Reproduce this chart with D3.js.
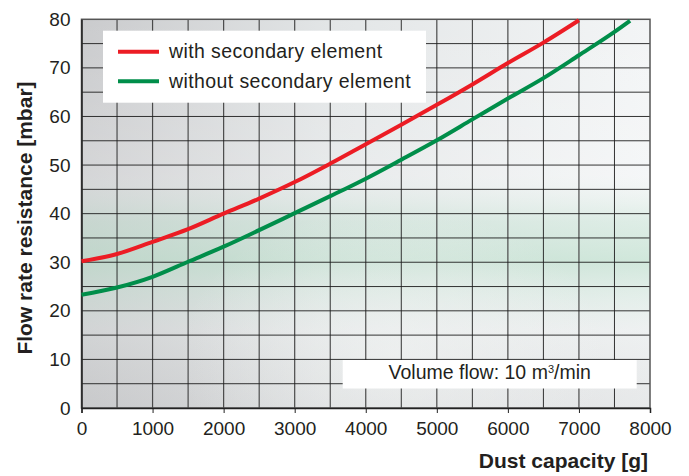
<!DOCTYPE html>
<html>
<head>
<meta charset="utf-8">
<script src="https://d3js.org/d3.v7.min.js"></script>
<style>
    body { margin: 0; background: #fff; }
    text { font-family: "Liberation Sans", Arial, Helvetica, sans-serif; fill: #231f20; }
</style>
</head>
<body>
<div id="chart"></div>
<script>
// values
const capacityRed = [0, 500, 1000, 1500, 2000, 2500, 3000, 3500, 4000, 4500, 5000, 5500, 6000, 6500, 7000];
const withSecondary = [30.2, 31.7, 34.2, 36.8, 40.0, 43.1, 46.5, 50.3, 54.3, 58.3, 62.4, 66.6, 71.0, 75.2, 79.8];
const capacityGreen = [0, 500, 1000, 1500, 2000, 2500, 3000, 3500, 4000, 4500, 5000, 5500, 6000, 6500, 7000, 7500, 7720];
const withoutSecondary = [23.3, 24.8, 27.0, 30.1, 33.2, 36.6, 40.1, 43.6, 47.2, 51.1, 55.1, 59.4, 63.7, 67.9, 72.6, 77.4, 79.7];
const xTicks = [0, 1000, 2000, 3000, 4000, 5000, 6000, 7000, 8000];
const yTicks = [0, 10, 20, 30, 40, 50, 60, 70, 80];
const seriesNames = ["with secondary element", "without secondary element"];
const seriesColors = ["#ec1c24", "#008e4a"];

const width = 689, height = 476;
const plot = { left: 81.5, right: 650, top: 19.3, bottom: 408 };

const svg = d3.select("#chart").append("svg")
    .attr("width", width)
    .attr("height", height);

const x = d3.scaleLinear().domain([0, 8000]).range([plot.left, plot.right]);
const y = d3.scaleLinear().domain([0, 80]).range([plot.bottom, plot.top]);

// background: grey to white, with a green band low in the plot
const defs = svg.append("defs");
const gh = defs.append("linearGradient").attr("id", "bgH");
gh.append("stop").attr("offset", "0%").attr("stop-color", "#cacbcd");
gh.append("stop").attr("offset", "45%").attr("stop-color", "#e3e6e7");
gh.append("stop").attr("offset", "100%").attr("stop-color", "#f3f5f6");

const gv = defs.append("linearGradient").attr("id", "bgV")
    .attr("x1", 0).attr("y1", 0).attr("x2", 0).attr("y2", 1);
gv.append("stop").attr("offset", "0%").attr("stop-color", "#ffffff").attr("stop-opacity", 0);
gv.append("stop").attr("offset", "40%").attr("stop-color", "#ffffff").attr("stop-opacity", 0.2);
gv.append("stop").attr("offset", "52%").attr("stop-color", "#c4e3d2").attr("stop-opacity", 0.45);
gv.append("stop").attr("offset", "62%").attr("stop-color", "#b9dec9").attr("stop-opacity", 0.6);
gv.append("stop").attr("offset", "72%").attr("stop-color", "#cfe6da").attr("stop-opacity", 0.4);
gv.append("stop").attr("offset", "80%").attr("stop-color", "#e4e8e7").attr("stop-opacity", 0.3);
gv.append("stop").attr("offset", "100%").attr("stop-color", "#c4c4c5").attr("stop-opacity", 0.25);

const gr = defs.append("radialGradient").attr("id", "glow")
    .attr("cx", "55%").attr("cy", "86%").attr("r", "38%");
gr.append("stop").attr("offset", "0%").attr("stop-color", "#f4f6f5").attr("stop-opacity", 0.55);
gr.append("stop").attr("offset", "100%").attr("stop-color", "#f4f6f5").attr("stop-opacity", 0);

["url(#bgH)", "url(#bgV)", "url(#glow)"].forEach(f => {
    svg.append("rect")
        .attr("x", plot.left).attr("y", plot.top)
        .attr("width", plot.right - plot.left).attr("height", plot.bottom - plot.top)
        .attr("fill", f);
});

// grid every 500 g and every 5 mbar
const grid = svg.append("g");
grid.selectAll(".vline")
    .data(d3.range(500, 8000, 500))
    .enter().append("line")
    .attr("x1", d => x(d)).attr("x2", d => x(d))
    .attr("y1", plot.top).attr("y2", plot.bottom)
    .attr("stroke", d => d % 1000 === 0 ? "#4a4a4a" : "#1e1e1e")
    .attr("stroke-width", d => d % 1000 === 0 ? 1.2 : 0.9);
grid.selectAll(".hline")
    .data(d3.range(5, 80, 5))
    .enter().append("line")
    .attr("x1", plot.left).attr("x2", plot.right)
    .attr("y1", d => y(d)).attr("y2", d => y(d))
    .attr("stroke", "#1e1e1e")
    .attr("stroke-width", 0.9);

svg.append("rect")
    .attr("x", plot.left).attr("y", plot.top)
    .attr("width", plot.right - plot.left).attr("height", plot.bottom - plot.top)
    .attr("fill", "none")
    .attr("stroke", "#555")
    .attr("stroke-width", 1.5);

// axes
const xAxis = svg.append("g")
    .attr("transform", "translate(0," + plot.bottom + ")")
    .call(d3.axisBottom(x).tickValues(xTicks).tickFormat(d3.format("d")).tickSize(5).tickPadding(9));
xAxis.select(".domain").attr("stroke", "#222").attr("stroke-width", 1.5);
xAxis.selectAll(".tick line").attr("stroke", "#222");
xAxis.selectAll("text").style("font-size", "19px").attr("fill", "#231f20");

const yAxis = svg.append("g")
    .attr("transform", "translate(" + plot.left + ",0)")
    .call(d3.axisLeft(y).tickValues(yTicks).tickSize(0).tickPadding(11));
yAxis.select(".domain").attr("stroke", "#222").attr("stroke-width", 1.5);
yAxis.selectAll("text").style("font-size", "19px").attr("fill", "#231f20");

// curves
const line = d3.line()
    .x(d => x(d[0]))
    .y(d => y(d[1]))
    .curve(d3.curveMonotoneX);

const series = [
    d3.zip(capacityRed, withSecondary),
    d3.zip(capacityGreen, withoutSecondary)
];
svg.selectAll(".curve")
    .data(series)
    .enter().append("path")
    .attr("class", "curve")
    .attr("d", line)
    .attr("fill", "none")
    .attr("stroke", (d, i) => seriesColors[i])
    .attr("stroke-width", 4);

// legend
svg.append("rect")
    .attr("x", 103).attr("y", 30.7)
    .attr("width", 323).attr("height", 72)
    .attr("fill", "#fff");
const legend = svg.selectAll(".legend")
    .data(seriesNames)
    .enter().append("g")
    .attr("transform", (d, i) => "translate(118," + (51.7 + i * 29.5) + ")");
legend.append("line")
    .attr("x1", 0).attr("x2", 41)
    .attr("stroke", (d, i) => seriesColors[i])
    .attr("stroke-width", 4);
legend.append("text")
    .attr("x", 51).attr("y", 6.5)
    .style("font-size", "19.5px")
    .style("letter-spacing", "0.4px")
    .text(d => d);

// volume flow note
svg.append("rect")
    .attr("x", 342.7).attr("y", 360)
    .attr("width", 294).attr("height", 28.5)
    .attr("fill", "#fff");
const note = svg.append("text")
    .attr("x", 489.7).attr("y", 378.5)
    .attr("text-anchor", "middle")
    .style("font-size", "19.5px");
note.append("tspan").text("Volume flow: 10 m");
note.append("tspan").attr("dy", -6).style("font-size", "11px").text("3");
note.append("tspan").attr("dy", 6).text("/min");

// axis titles
svg.append("text")
    .attr("x", 648).attr("y", 468)
    .attr("text-anchor", "end")
    .style("font-size", "21px")
    .style("font-weight", "bold")
    .text("Dust capacity [g]");

svg.append("text")
    .attr("transform", "translate(31.5,218) rotate(-90)")
    .attr("text-anchor", "middle")
    .style("font-size", "21px")
    .style("font-weight", "bold")
    .text("Flow rate resistance [mbar]");
</script>
</body>
</html>
